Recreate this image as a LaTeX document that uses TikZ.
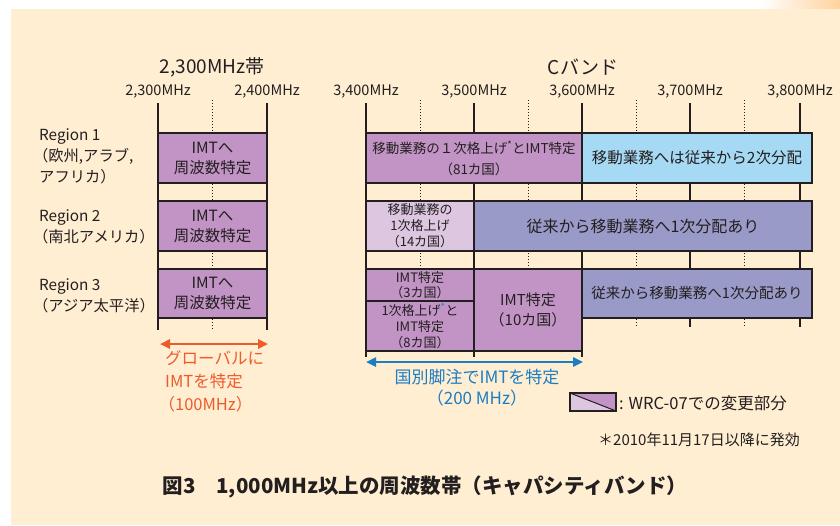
\documentclass[tikz,border=0pt]{standalone}
\usepackage{fontspec}
\setmainfont{Noto Sans CJK JP}
\usetikzlibrary{arrows.meta}
\definecolor{cream}{HTML}{FFEED2}
\definecolor{ink}{HTML}{231F20}
\definecolor{imtpurple}{HTML}{C293C5}
\definecolor{lavender}{HTML}{DCC6E0}
\definecolor{skyblue}{HTML}{A6DAF4}
\definecolor{bluepurple}{HTML}{9A9AC8}
\definecolor{orangeA}{HTML}{EE5B2B}
\definecolor{blueA}{HTML}{1C7DC2}
\newcommand{\fsz}[2]{\fontsize{#1}{#2}\selectfont}
\newcommand{\lp}{\kern-0.4em（}
\begin{document}
\begin{tikzpicture}[x=1pt,y=-1pt,
  txt/.style={inner sep=0pt,text=ink,align=center},
  freq/.style={txt,font=\fsz{14.5}{15}},
  ttl/.style={txt,font=\fsz{19}{19}},
  reg/.style={txt,align=left,anchor=west,font=\fsz{15.3}{21}},
  tickline/.style={draw=ink,line width=2pt},
  dotline/.style={draw=ink,line width=0.9pt,dash pattern=on 1.3pt off 1.7pt},
  cell/.style={draw=ink,line width=1.4pt,inner sep=0pt,outer sep=0pt,text=ink,align=center,anchor=center},
  dblarrow/.style={line width=2.4pt,{Triangle[length=10pt,width=9pt]}-{Triangle[length=10pt,width=9pt]}}
]
\useasboundingbox (0,0) rectangle (840,525);
\fill[white] (0,0) rectangle (840,525);
\shade[left color=white,right color=orange!25!cream] (760,0) rectangle (840,9);
\fill[cream] (11,9) rectangle (840,525);

% titles
\node[ttl] (t2300) at (212,67) {2,300MHz帯};
\node[ttl] (tc) at (583,67) {Cバンド};

% frequency labels
\node[freq] (f2300) at (158,92) {2,300MHz};
\node[freq] (f2400) at (267,92) {2,400MHz};
\node[freq] (f3400) at (366,92) {3,400MHz};
\node[freq] (f3500) at (474,92) {3,500MHz};
\node[freq] (f3600) at (582,92) {3,600MHz};
\node[freq] (f3700) at (690,92) {3,700MHz};
\node[freq] (f3800) at (800,92) {3,800MHz};

% axis lines
\draw[tickline] (158,103) -- (158,330);
\draw[tickline] (267,103) -- (267,330);
\draw[dotline] (212,100) -- (212,330);
\draw[tickline] (366,103) -- (366,357);
\draw[tickline] (474,103) -- (474,357);
\draw[tickline] (582,103) -- (582,357);
\draw[tickline] (690,103) -- (690,327);
\draw[tickline] (800,103) -- (800,327);
\draw[dotline] (420,100) -- (420,300);
\draw[dotline] (528,100) -- (528,300);
\draw[dotline] (636,100) -- (636,327);
\draw[dotline] (744,100) -- (744,327);

% region labels
\node[reg] (reg1) at (39,156) {Region 1\\\lp 欧州,アラブ,\\アフリカ）};
\node[reg] (reg2) at (39,227) {Region 2\\\lp 南北アメリカ）};
\node[reg] (reg3) at (39,296) {Region 3\\\lp アジア太平洋）};

% 2300 MHz cells
\node[cell,fill=imtpurple,font=\fsz{15.5}{20},minimum width=109pt,minimum height=50pt] (a1) at (212.5,158) {IMTへ\\周波数特定};
\node[cell,fill=imtpurple,font=\fsz{15.5}{20},minimum width=109pt,minimum height=50pt] (a2) at (212.5,226) {IMTへ\\周波数特定};
\node[cell,fill=imtpurple,font=\fsz{15.5}{20},minimum width=109pt,minimum height=49pt] (a3) at (212.5,293.5) {IMTへ\\周波数特定};

% C band cells
\node[cell,fill=imtpurple,font=\fsz{13.5}{21},minimum width=216pt,minimum height=50pt] (c1a) at (474,158) {移動業務の１次格上げ\textsuperscript{*}とIMT特定\\（81カ国）};
\node[cell,fill=skyblue,font=\fsz{15.5}{16},minimum width=230pt,minimum height=50pt] (c1b) at (697,158) {移動業務へは従来から2次分配};
\node[cell,fill=lavender,font=\fsz{13}{16},minimum width=108pt,minimum height=50pt] (c2a) at (420,226) {移動業務の\\1次格上げ\\（14カ国）};
\node[cell,fill=bluepurple,font=\fsz{16}{17},minimum width=338pt,minimum height=50pt] (c2b) at (643,226) {従来から移動業務へ1次分配あり};
\node[cell,fill=imtpurple,font=\fsz{13}{15},minimum width=108pt,minimum height=32pt] (c3a) at (420,285) {IMT特定\\（3カ国）};
\node[cell,fill=imtpurple,font=\fsz{13}{16},minimum width=108pt,minimum height=50pt] (c3b) at (420,326) {1次格上げ\textsuperscript{\textcolor{blueA}{*}}と\\IMT特定\\（8カ国）};
\node[cell,fill=imtpurple,font=\fsz{15}{20},minimum width=108pt,minimum height=82pt] (c3c) at (528,310) {IMT特定\\（10カ国）};
\node[cell,fill=bluepurple,font=\fsz{14.5}{16},minimum width=230pt,minimum height=49pt] (c3d) at (697,293.5) {従来から移動業務へ1次分配あり};

% arrows
\coordinate (oa) at (160,344);
\coordinate (ob) at (268,344);
\draw[dblarrow,draw=orangeA,fill=orangeA] (oa) -- (ob);
\node[txt,align=left,anchor=north west,text=orangeA,font=\fsz{16.5}{23}] (otext) at (165,350) {グローバルに\\IMTを特定\\\lp 100MHz）};

\coordinate (ba) at (366,362);
\coordinate (bb) at (583,362);
\draw[dblarrow,draw=blueA,fill=blueA] (ba) -- (bb);
\node[txt,text=blueA,font=\fsz{17}{21},anchor=north] (btext) at (477,369) {国別脚注でIMTを特定\\（200 MHz）};

% legend
\fill[lavender] (570,393) -- (616,411) -- (570,411) -- cycle;
\fill[imtpurple] (570,393) -- (616,393) -- (616,411) -- cycle;
\draw[ink,line width=1.2pt] (570,393) rectangle (616,411);
\draw[ink,line width=1pt] (570,393) -- (616,411);
\node[txt,anchor=west,font=\fsz{16.5}{17}] (leg) at (619,403) {: WRC-07での変更部分};

\node[txt,anchor=west,font=\fsz{15}{15}] (note) at (598,440) {＊2010年11月17日以降に発効};

% caption
\node[txt,font=\bfseries\fsz{20.5}{21}] (cap) at (425,487) {図3\quad 1,000MHz以上の周波数帯（キャパシティバンド）};
\end{tikzpicture}
\end{document}
